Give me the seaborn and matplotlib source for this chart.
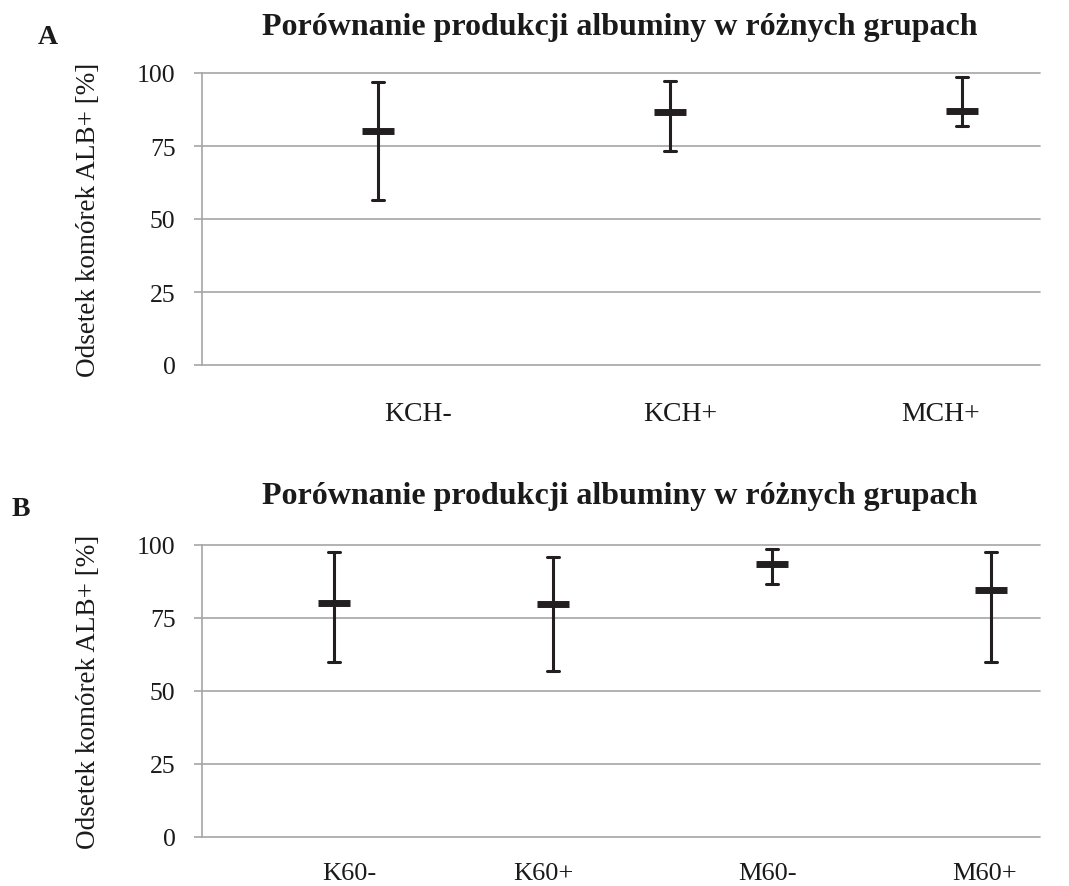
import matplotlib
matplotlib.use("Agg")
import matplotlib.pyplot as plt
import seaborn as sns
import pandas as pd

# ---- data ----
top_categories = ["KCH-", "KCH+", "MCH+"]
top_mean = [80.1, 86.5, 86.9]
top_low = [56.4, 73.3, 82.0]
top_high = [97.0, 97.3, 98.5]

bottom_categories = ["K60-", "K60+", "M60-", "M60+"]
bottom_mean = [80.1, 79.7, 93.5, 84.6]
bottom_low = [59.8, 57.0, 86.5, 59.8]
bottom_high = [97.5, 95.8, 98.6, 97.5]

y_ticks = [0, 25, 50, 75, 100]
title_text = "Porównanie produkcji albuminy w różnych grupach"
ylabel_text = "Odsetek komórek ALB+ [%]"
panel_labels = ["A", "B"]

sns.set_theme(style="white")
plt.rcParams["font.family"] = ["Liberation Serif", "DejaVu Serif"]

INK = "#231f20"
TXT = "#1a1a1a"
GRID = "#a6a6a6"

fig = plt.figure(figsize=(10.69, 8.87), dpi=100)
ax_top = fig.add_axes([202 / 1069, 1 - 366 / 887, 838 / 1069, 292 / 887])
ax_bot = fig.add_axes([202 / 1069, 1 - 838 / 887, 838 / 1069, 292 / 887])


def long_frame(cats, low, mean, high):
    rows = []
    for c, lo, m, hi in zip(cats, low, mean, high):
        for v in (lo, m, hi):
            rows.append({"group": c, "value": v})
    return pd.DataFrame(rows)


def draw(ax, cats, low, mean, high, capsize, xlab_size, xpad, label_shift, xright):
    df = long_frame(cats, low, mean, high)
    sns.pointplot(
        data=df, x="group", y="value", order=cats, ax=ax,
        estimator="median", errorbar=lambda v: (v.min(), v.max()),
        color=INK, markers="_", linestyles="none",
        markersize=22.5, markeredgewidth=5,
        capsize=capsize, err_kws={"linewidth": 2.2, "color": INK},
    )
    n = len(cats)
    ax.set_xlim(-0.603, xright)
    ax.set_ylim(0, 100)
    ax.set_yticks(y_ticks)
    ax.set_yticklabels([str(t) for t in y_ticks], fontsize=18.5, color=TXT)
    # category labels sit slightly off their markers in the reference
    ax.set_xticks([i + d for i, d in zip(range(n), label_shift)])
    ax.set_xticklabels(cats, fontsize=xlab_size, color=TXT)
    ax.yaxis.grid(True, color=GRID, linewidth=1.2)
    ax.xaxis.grid(False)
    ax.set_axisbelow(True)
    for s in ("top", "right", "bottom"):
        ax.spines[s].set_visible(False)
    ax.spines["left"].set_color(GRID)
    ax.spines["left"].set_linewidth(1.2)
    ax.tick_params(axis="y", length=6, width=1.2, color=GRID, pad=13, left=True)
    ax.tick_params(axis="x", length=0, pad=xpad)
    ax.set_xlabel("")
    ax.set_ylabel(ylabel_text, fontsize=19.5, color=TXT)
    ax.yaxis.set_label_coords(-0.12, 0.5)
    for line in ax.get_ygridlines():
        line.set_clip_on(False)


draw(ax_top, top_categories, top_low, top_mean, top_high, 0.04, 20, 26,
     [0.137, 0.034, -0.075], 2.267)
draw(ax_bot, bottom_categories, bottom_low, bottom_mean, bottom_high, 0.055, 19, 18,
     [0.07, -0.045, -0.02, -0.03], 3.224)

fig.text(0.58, 1 - 28 / 887, title_text, ha="center", va="center",
         fontsize=23, fontweight="bold", color=TXT)
fig.text(0.58, 1 - 497 / 887, title_text, ha="center", va="center",
         fontsize=23, fontweight="bold", color=TXT)
fig.text(48 / 1069, 1 - 37 / 887, panel_labels[0], ha="center", va="center",
         fontsize=20, fontweight="bold", color=TXT)
fig.text(21 / 1069, 1 - 509 / 887, panel_labels[1], ha="center", va="center",
         fontsize=20, fontweight="bold", color=TXT)

fig.savefig("out.png", dpi=100, facecolor="white")
